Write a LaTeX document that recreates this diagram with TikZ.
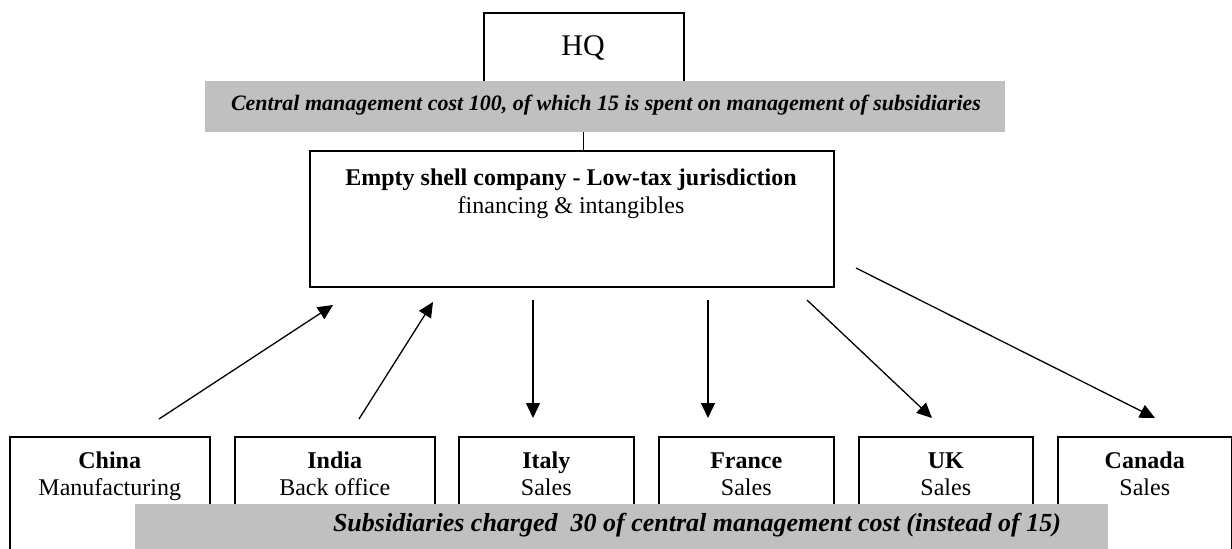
\documentclass[tikz,border=0pt]{standalone}
\usepackage{fontspec}
\setmainfont{Liberation Serif}
\usetikzlibrary{arrows.meta}
\definecolor{barGray}{RGB}{192,192,192}
\begin{document}
\begin{tikzpicture}[x=1pt,y=-1pt,
  box/.style={draw=black, line width=1.5pt, fill=white, inner sep=0pt, anchor=north west},
  bar/.style={fill=barGray, draw=none, inner sep=0pt, anchor=north west},
  bartext/.style={font=\fontsize{22}{26}\selectfont\bfseries\itshape, anchor=base, inner sep=0pt},
  boxtext/.style={font=\fontsize{24}{28}\selectfont, anchor=base, inner sep=0pt},
  flow/.style={line width=1.3pt, -{Triangle[length=15pt,width=14pt]}}]
\useasboundingbox (0,0) rectangle (1232,549);
\clip (0,0) rectangle (1232,549);

% headquarters and the cost bar across its foot
\node[box, minimum width=200pt, minimum height=90pt] (hq) at (483,12) {};
\node[font=\fontsize{30}{36}\selectfont, anchor=base, inner sep=0pt] (hqname) at (583,55) {HQ};
\node[box, minimum width=524pt, minimum height=136pt] (shell) at (309,150) {};
\draw[line width=1.1pt] (hq.south) -- (hq.south |- shell.north);
\node[bar, minimum width=800pt, minimum height=51pt] (costbar) at (205,81) {};
\node[bartext] (costtext) at (606,110)
  {Central management cost 100, of which 15 is spent on management of subsidiaries};

% intermediate company
\node[boxtext] (shellname) at (571,185) {\bfseries Empty shell company - Low-tax jurisdiction};
\node[boxtext] (shellrole) at (571,213) {financing \& intangibles};

% subsidiaries
\node[box, minimum width=200pt, minimum height=140pt] (china)  at (9,436) {};
\node[box, minimum width=200pt, minimum height=140pt] (india)  at (234,436) {};
\node[box, minimum width=175pt, minimum height=140pt] (italy)  at (458,436) {};
\node[box, minimum width=175pt, minimum height=140pt] (france) at (658,436) {};
\node[box, minimum width=174pt, minimum height=140pt] (uk)     at (858,436) {};
\node[box, minimum width=174pt, minimum height=140pt] (canada) at (1057,436) {};

\foreach \n/\a/\b in {china/China/Manufacturing, india/India/Back office,
    italy/Italy/Sales, france/France/Sales, uk/UK/Sales, canada/Canada/Sales}{
  \node[boxtext] (\n-name) at ([yshift=-32pt]\n.north) {\bfseries \a};
  \node[boxtext] (\n-role) at ([yshift=-59pt]\n.north) {\b};
}

% flows between the shell company and the subsidiaries
\coordinate (chinaOut)  at (159,419);  \coordinate (chinaIn)  at (333,305);
\coordinate (indiaOut)  at (359,419);  \coordinate (indiaIn)  at (433,302);
\coordinate (italyOut)  at (533,300);  \coordinate (italyIn)  at (533,418);
\coordinate (franceOut) at (708,300);  \coordinate (franceIn) at (708,418);
\coordinate (ukOut)     at (807,300);  \coordinate (ukIn)     at (932,418);
\coordinate (canadaOut) at (856,268);  \coordinate (canadaIn) at (1155,418);
\draw[flow] (chinaOut) -- (chinaIn);
\draw[flow] (indiaOut) -- (indiaIn);
\draw[flow] (italyOut) -- (italyIn);
\draw[flow] (franceOut) -- (franceIn);
\draw[flow] (ukOut) -- (ukIn);
\draw[flow] (canadaOut) -- (canadaIn);

% recharge bar over the subsidiaries
\node[bar, minimum width=973pt, minimum height=60pt] (chargebar) at (135,504) {};
\node[bartext, font=\fontsize{26}{30}\selectfont\bfseries\itshape] (chargetext) at (697,531)
  {Subsidiaries charged\ \ 30 of central management cost (instead of 15)};
\end{tikzpicture}
\end{document}
